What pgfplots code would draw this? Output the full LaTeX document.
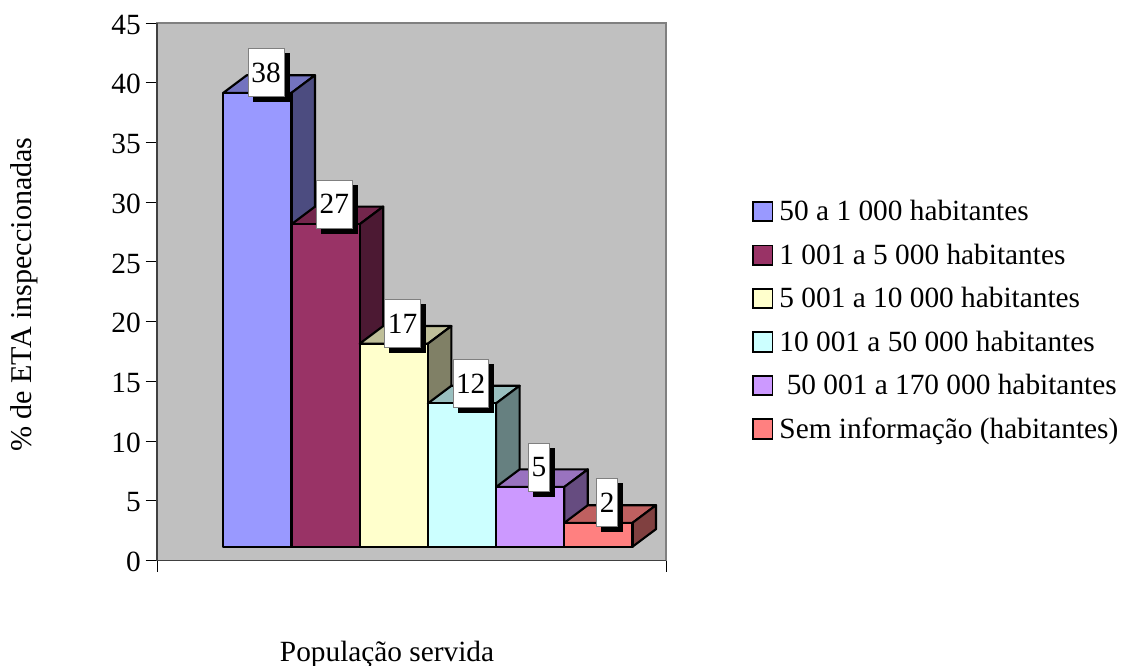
\documentclass[border=0pt]{standalone}
\usepackage{fontspec}
\setmainfont{Liberation Serif}
\usepackage{pgfplots}
\pgfplotsset{compat=1.18}

\definecolor{plotbg}{HTML}{C0C0C0}
\definecolor{barA}{HTML}{9999FF}
\definecolor{barB}{HTML}{993366}
\definecolor{barC}{HTML}{FFFFCC}
\definecolor{barD}{HTML}{CCFFFF}
\definecolor{barE}{HTML}{CC99FF}
\definecolor{barF}{HTML}{FF8080}

\newcommand{\chartfont}{\fontsize{22}{26}\selectfont}

% Oblique bar: front face, top face and side face, then its value tag.
% #1 position, #2 value, #3 colour
\newcommand{\obliquebar}[3]{%
  \pgfmathsetmacro\xl{#1+0.972}%
  \pgfmathsetmacro\xr{#1+1.972}%
  \pgfmathsetmacro\xbl{#1+1.3166}%
  \pgfmathsetmacro\xbr{#1+2.3166}%
  \pgfmathsetmacro\yb{1.157}%
  \pgfmathsetmacro\ybb{2.632}%
  \pgfmathsetmacro\yt{#2+1.157}%
  \pgfmathsetmacro\ytb{#2+2.632}%
  \addplot[forget plot,draw=black,line width=1.6pt,line join=round,fill=#3!75!black]
    coordinates {(\xl,\yt) (\xr,\yt) (\xbr,\ytb) (\xbl,\ytb)} --cycle;
  \addplot[forget plot,draw=black,line width=1.6pt,line join=round,fill=#3!50!black]
    coordinates {(\xr,\yb) (\xbr,\ybb) (\xbr,\ytb) (\xr,\yt)} --cycle;
  \addplot[forget plot,draw=black,line width=1.6pt,line join=round,fill=#3]
    coordinates {(\xl,\yb) (\xr,\yb) (\xr,\yt) (\xl,\yt)} --cycle;
  \pgfmathsetmacro\lx{#1+1.6}%
  \pgfmathsetmacro\ly{#2+1.157+1.676}%
  \edef\tagnodes{%
    \noexpand\node[valtag,fill=black,draw=black,xshift=3.75pt,yshift=-3.75pt] at (axis cs:\lx,\ly) {\noexpand\phantom{#2}};
    \noexpand\node[valtag,fill=white,draw=gray] at (axis cs:\lx,\ly) {#2};}%
  \tagnodes
}

\begin{document}
\begin{tikzpicture}[
  valtag/.style={font=\chartfont,inner xsep=2.4pt,inner ysep=0pt,minimum height=36pt,line width=0.5pt}]
\path[use as bounding box] (0,0) rectangle (843pt,499.5pt);
\begin{axis}[
  at={(117.75pt,79.1pt)},anchor=south west,
  scale only axis,width=381.75pt,height=403.1pt,
  xmin=0,xmax=7.463,ymin=0,ymax=45,
  clip=false,
  axis background/.style={fill=plotbg},
  axis line style={draw=gray,line width=1pt},
  xtick={0,7.463},xticklabels={},
  ytick={0,5,...,45},
  tick align=outside,tick pos=left,
  major tick length=8.5pt,
  tick style={black,line width=0.7pt},
  yticklabel style={font=\chartfont,/pgf/number format/assume math mode=true,inner sep=0pt,yshift=-1.2pt},
  ytick style={black},
  yticklabel shift=3.5pt,
  font=\chartfont,
  xlabel={População servida},
  ylabel={\% de ETA inspeccionadas},
  xlabel style={at={(axis description cs:0.452,-0.174)},anchor=center},
  ylabel style={at={(axis description cs:-0.261,0.4947)},anchor=center,font=\fontsize{22.6}{26}\selectfont},
  legend image code/.code={\draw[#1,line width=1.4pt] (0pt,-5.5pt) rectangle (14.5pt,9pt);},
  legend cell align=left,
  legend style={draw=none,fill=none,at={(1.169,0.67)},anchor=north west,
    inner sep=0pt,row sep=12.6pt,font=\chartfont,
    nodes={inner sep=0pt,text height=15pt,text depth=5pt},
    /tikz/every odd column/.append style={column sep=4.5pt}},
]
\draw[black!75,line width=1.4pt] (axis cs:0,45) -- (axis cs:0,0) -- (axis cs:7.463,0);

\addlegendimage{fill=barA,draw=black}
\addlegendentry{50 a 1 000 habitantes}
\addlegendimage{fill=barB,draw=black}
\addlegendentry{1 001 a 5 000 habitantes}
\addlegendimage{fill=barC,draw=black}
\addlegendentry{5 001 a 10 000 habitantes}
\addlegendimage{fill=barD,draw=black}
\addlegendentry{10 001 a 50 000 habitantes}
\addlegendimage{fill=barE,draw=black}
\addlegendentry{\ 50 001 a 170 000 habitantes}
\addlegendimage{fill=barF,draw=black}
\addlegendentry{Sem informação (habitantes)}

\obliquebar{0}{38}{barA}
\obliquebar{1}{27}{barB}
\obliquebar{2}{17}{barC}
\obliquebar{3}{12}{barD}
\obliquebar{4}{5}{barE}
\obliquebar{5}{2}{barF}
\end{axis}
\end{tikzpicture}
\end{document}
